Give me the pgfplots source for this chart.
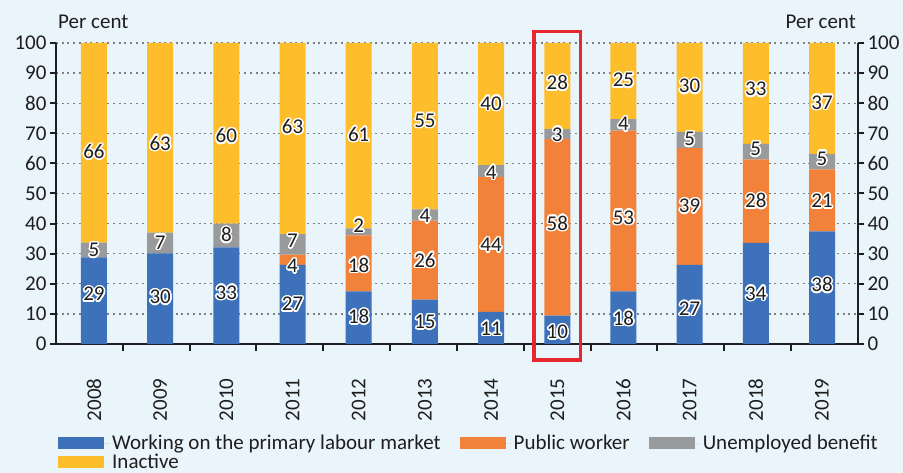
\documentclass[border=0pt]{standalone}
\usepackage{pgfplots}
\pgfplotsset{compat=1.18}
\usepackage{pgfplotstable}
\usepackage{fontspec}
\setmainfont{Carlito}
\usepackage[copies]{contour}
\contourlength{1.5pt}
\contournumber{20}

\definecolor{bg}{HTML}{EAF4FB}
\definecolor{cblue}{HTML}{3D72BA}
\definecolor{corange}{HTML}{F2823A}
\definecolor{cgrey}{HTML}{989A9B}
\definecolor{cyellow}{HTML}{FEBD2A}
\definecolor{cred}{HTML}{E8262D}
\definecolor{cgrid}{HTML}{7F7F7F}
\definecolor{ctext}{HTML}{1E1E1E}

\newcommand{\fs}{\fontsize{21}{25}\selectfont}

\pgfplotstableread{
x blue orange grey yellow
0 28.8 0 4.9 66.3
1 30.1 0 6.9 63.0
2 32.1 0 7.9 60.0
3 26.3 3.4 6.8 63.5
4 17.5 18.6 2.3 61.6
5 14.7 26.3 3.7 55.3
6 10.7 44.8 3.9 40.6
7 9.4 58.7 3.3 28.6
8 17.5 53.4 3.8 25.3
9 26.3 38.8 5.4 29.5
10 33.6 27.7 5.2 33.5
11 37.4 20.6 5.2 36.8
}\bars

\pgfplotstableread{
x y l
0 16.3 29
0 31.0 5
0 63.7 66
1 15.4 30
1 33.5 7
1 66.5 63
2 16.8 33
2 36.0 8
2 68.9 60
3 13.0 27
3 25.7 4
3 34.0 7
3 72.0 63
4 8.9 18
4 26.0 18
4 39.2 2
4 69.4 61
5 7.1 15
5 27.6 26
5 42.3 4
5 73.9 55
6 4.9 11
6 32.6 44
6 56.7 4
6 79.7 40
7 3.8 10
7 39.9 58
7 69.4 3
7 86.6 28
8 8.3 18
8 41.8 53
8 72.8 4
8 87.4 25
9 11.5 27
9 45.6 39
9 67.8 5
9 85.4 30
10 16.6 34
10 47.3 28
10 64.5 5
10 84.4 33
11 19.4 38
11 47.3 21
11 61.4 5
11 80.0 37
}\labels

\pgfplotsset{
  legimg/.style={legend image code/.code={\fill[#1] (0pt,-6pt) rectangle (46pt,6pt); \path (0pt,0pt) -- (52pt,0pt);}},
  common/.style={
    at={(56pt,129pt)}, anchor=south west,
    scale only axis, width=802pt, height=301pt,
    xmin=-0.574, xmax=11.544, ymin=0, ymax=100,
    axis line style={line width=2.4pt, ctext},
    ytick={0,10,...,100},
    tick align=outside,
    major tick length=6pt,
    y tick style={line width=2pt, ctext},
    yticklabel style={font=\fs, text=ctext},
    /pgf/number format/assume math mode=true,
  },
}

\begin{document}
\begin{tikzpicture}[x=1pt,y=1pt]
\fill[bg] (0,0) rectangle (903,473);
\begin{axis}[common,
  ybar stacked, bar width=26pt,
  axis x line*=bottom, axis y line*=left,
  xtick={0,...,11},
  xticklabels={2008,2009,2010,2011,2012,2013,2014,2015,2016,2017,2018,2019},
  major x tick style={draw=none},
  minor xtick={0.436,1.446,2.455,3.465,4.475,5.485,6.495,7.505,8.514,9.524,10.534},
  minor x tick style={line width=2pt, ctext},
  minor tick length=7pt,
  xticklabel style={rotate=90, anchor=east, font=\fs, text=ctext},
  xticklabel shift=25pt,
  ymajorgrids,
  major grid style={cgrid, line width=1.3pt, dash pattern=on 2pt off 3.7pt},
  legend columns=3,
  legend cell align=left,
  legend style={at={(0.0025,-0.296)}, anchor=north west, draw=none, fill=none,
    font=\fs, text=ctext, inner sep=0pt, row sep=-1pt,
    /tikz/every even column/.append style={column sep=17pt}},
]
\addplot[fill=cblue, draw=none, legimg=cblue] table[x=x,y=blue]{\bars};
\addlegendentry{Working on the primary labour market}
\addplot[fill=corange, draw=none, legimg=corange] table[x=x,y=orange]{\bars};
\addlegendentry{Public worker}
\addplot[fill=cgrey, draw=none, legimg=cgrey] table[x=x,y=grey]{\bars};
\addlegendentry{Unemployed benefit}
\addplot[fill=cyellow, draw=none, legimg=cyellow] table[x=x,y=yellow]{\bars};
\addlegendentry{Inactive}
\end{axis}
\begin{axis}[common,
  axis x line=none, axis y line*=right,
]
\addplot[draw=none, mark=none, nodes near coords={\contour{white}{\pgfplotspointmeta}},
  point meta=explicit symbolic,
  nodes near coords style={anchor=center, font=\fs, text=ctext, inner sep=0pt}]
  table[x=x,y=y,meta=l]{\labels};
\end{axis}
\draw[cred, line width=3.6pt] (534,113) rectangle (580.5,441.5);
\node[anchor=base west, font=\fs, text=ctext, inner sep=0pt] at (58,444) {Per cent};
\node[anchor=base east, font=\fs, text=ctext, inner sep=0pt] at (856,444) {Per cent};
\pgfresetboundingbox
\useasboundingbox (0,0) rectangle (903,473);
\end{tikzpicture}
\end{document}
